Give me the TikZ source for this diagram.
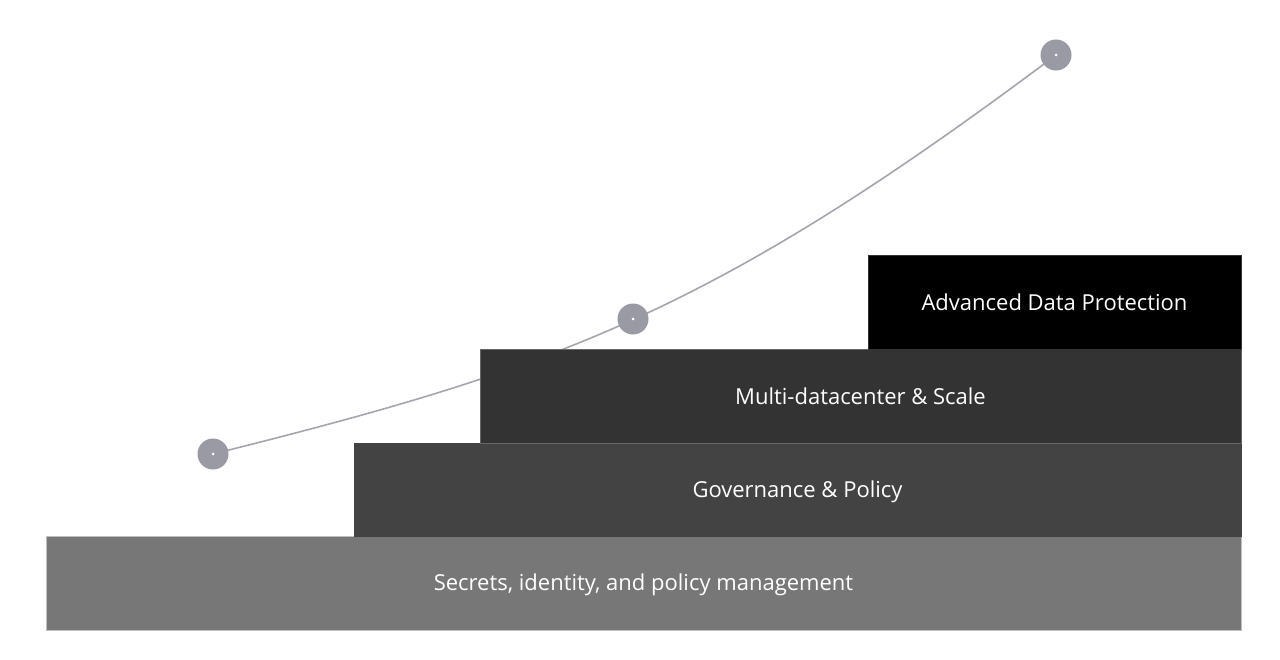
\documentclass[tikz,border=0pt]{standalone}
\usepackage{fontspec}
\setmainfont{Open Sans}
\definecolor{stepA}{HTML}{777777}
\definecolor{stepB}{HTML}{434343}
\definecolor{stepC}{HTML}{333333}
\definecolor{stepD}{HTML}{000000}
\definecolor{dotfill}{HTML}{9A9AA5}
\definecolor{curveline}{HTML}{A6A4AC}
\begin{document}
\begin{tikzpicture}[x=1pt,y=-1pt,
  stepbox/.style={rectangle, inner sep=0pt, outer sep=0pt, line width=1pt},
  steplabel/.style={text=white, font=\fontsize{22}{26}\selectfont, inner sep=0pt},
  milestone/.style={circle, fill=dotfill, minimum size=31pt, inner sep=0pt},
  pip/.style={circle, fill=white, minimum size=3pt, inner sep=0pt}]
\useasboundingbox (0,0) rectangle (1280,660);
\fill[white] (0,0) rectangle (1280,660);

% milestones
\coordinate (m1) at (213,454);
\coordinate (m2) at (633,319);
\coordinate (m3) at (1056,55);

% growth curve, drawn first so the steps cover it
\draw[curveline, line width=1.6pt] (m1) .. controls (557,368) and (712,313) .. (m3);

% staircase of capability tiers
\node[stepbox, fill=stepA, draw=black!25, minimum width=1195pt, minimum height=94pt]
  (base) at (643.5,583) {};
\node[stepbox, fill=stepB, draw=stepB, minimum width=887pt, minimum height=93pt]
  (gov) at (797.5,489.5) {};
\node[stepbox, fill=stepC, draw=black!60, minimum width=761pt, minimum height=93pt]
  (multi) at (860.5,396.5) {};
\node[stepbox, fill=stepD, draw=stepC, minimum width=373pt, minimum height=94pt]
  (adv) at (1054.5,303) {};

% tier labels, placed on their text midline
\node[steplabel, anchor=mid] at ([yshift=-5pt]base.center) {Secrets, identity, and policy management};
\node[steplabel, anchor=mid] at ([yshift=-5pt]gov.center) {Governance \& Policy};
\node[steplabel, anchor=mid] at ([yshift=-5pt]multi.center) {Multi-datacenter \& Scale};
\node[steplabel, anchor=mid] at ([yshift=-5pt]adv.center) {Advanced Data Protection};

% milestone markers on the curve
\foreach \m in {m1,m2,m3} {
  \node[milestone] (\m dot) at (\m) {};
  \node[pip] at (\m) {};
}
\end{tikzpicture}
\end{document}
